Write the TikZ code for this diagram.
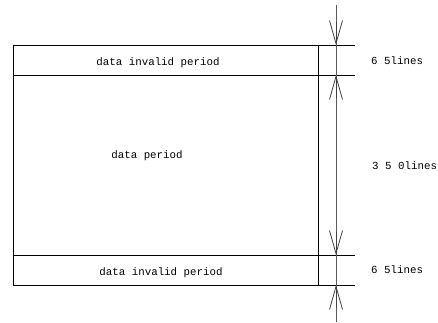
\documentclass[tikz,border=0pt]{standalone}
\usepackage{fontspec}
\setmainfont{Liberation Mono}
\usetikzlibrary{arrows.meta}
\begin{document}
\begin{tikzpicture}[x=1pt,y=-1pt,
  box/.style={draw=black,line width=0.8pt},
  ext/.style={draw=black,line width=0.8pt},
  dim/.style={draw=black!65,line width=0.9pt},
  barb/.style={draw=black!75,line width=0.8pt,-{Straight Barb[length=23pt,width=13pt,line width=0.8pt]}},
  lbl/.style={font=\fontsize{10.8}{12}\selectfont,inner sep=0pt}]
\useasboundingbox (0,0) rectangle (438,323);
% coordinates
\coordinate (tl) at (13,45);
\coordinate (tr) at (318,45);
\coordinate (d1l) at (13,75);
\coordinate (d1r) at (318,75);
\coordinate (d2l) at (13,255);
\coordinate (d2r) at (318,255);
\coordinate (bl) at (13,285);
\coordinate (br) at (318,285);
\coordinate (e0) at (355,45);
\coordinate (e1) at (355,75);
\coordinate (e2) at (355,255);
\coordinate (e3) at (355,285);
\coordinate (dtop) at (336,5);
\coordinate (dbot) at (336,322);
\coordinate (a0) at (336,45);
\coordinate (a1) at (336,75);
\coordinate (a2) at (336,255);
\coordinate (a3) at (336,285);
\coordinate (s0) at (336,22);
\coordinate (s1) at (336,98);
\coordinate (s2) at (336,232);
\coordinate (s3) at (336,308);
% rectangle
\draw[box] (tl) -- (bl) -- (br) -- (tr);
\draw[ext] (tl) -- (e0);
\draw[ext] (d1l) -- (e1);
\draw[ext] (d2l) -- (e2);
\draw[ext] (bl) -- (br);
\draw[ext] (br) -- (e3);
% dimension line
\draw[dim] (dtop) -- (dbot);
\draw[barb] (s0) -- (a0);
\draw[barb] (s1) -- (a1);
\draw[barb] (s2) -- (a2);
\draw[barb] (s3) -- (a3);
% labels
\node[lbl] (t1) at (158,63) {data invalid period};
\node[lbl] (t2) at (147,156) {data period};
\node[lbl] (t3) at (161,273) {data invalid period};
\node[lbl,anchor=west] (n1) at (371,61) {6 5lines};
\node[lbl,anchor=west] (n2) at (372,166) {3 5 0lines};
\node[lbl,anchor=west] (n3) at (371,270) {6 5lines};
\end{tikzpicture}
\end{document}
